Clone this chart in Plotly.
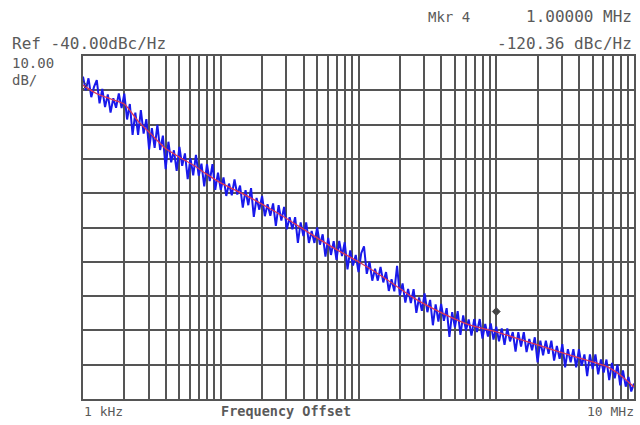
import numpy as np
import plotly.graph_objects as go

# ---- data ----
# noisy measured trace (blue), 201 log-spaced points from 1 kHz to 10 MHz
blue_freq_hz = np.logspace(3, 7, 201)
blue_dbc = [
    -46.0, -50.0, -46.5, -52.0, -49.0, -47.0, -53.8, -49.6, -54.9, -51.2,
    -56.5, -52.3, -55.1, -50.9, -55.2, -51.0, -58.5, -54.0, -63.0, -56.5,
    -63.0, -55.8, -62.6, -58.4, -67.2, -61.0, -66.8, -60.1, -67.4, -63.2,
    -73.0, -65.0, -71.0, -67.5, -73.5, -66.5, -72.0, -68.4, -75.9, -69.8,
    -74.8, -68.8, -74.9, -71.4, -78.0, -71.5, -76.5, -71.5, -79.0, -74.0,
    -79.0,
    -75.4, -80.8, -77.2, -80.6, -76.0, -80.4, -77.8, -84.2, -79.1, -83.5,
    -78.5, -86.9, -81.4, -84.8, -80.8, -86.7, -83.2, -86.6, -83.0, -89.5,
    -83.5, -88.0, -84.0, -90.5, -87.0, -90.5, -87.0, -94.5, -88.5, -92.5,
    -88.5, -94.5, -91.0, -94.5, -90.0, -95.0, -92.0, -98.5, -93.0, -98.0,
    -94.0, -99.4, -93.9, -98.3, -94.3, -102.2, -96.7, -101.1, -98.0, -103.0,
    -97.5, -95.5, -103.5, -100.0, -105.5, -102.0, -105.5, -101.5, -106.0, -103.0,
    -108.5, -105.1, -108.6, -101.2, -109.8, -106.3, -111.9, -107.9, -112.0, -108.0,
    -114.9, -110.4, -114.3, -109.2, -114.7, -111.1, -118.5, -112.4, -117.4, -112.3,
    -117.2, -113.5, -121.9, -114.7, -119.1, -114.4, -121.3, -115.6, -120.0, -116.8,
    -121.5, -116.7, -120.5, -116.7, -122.4, -118.1, -121.8, -118.0, -122.7, -118.9,
    -123.2, -119.4, -124.2, -119.4, -123.2, -120.5, -126.2, -120.5, -124.7, -120.5,
    -126.3, -122.5, -125.8, -122.0, -129.3, -123.0, -127.3, -123.0, -126.8, -123.0,
    -128.8, -124.5, -128.3, -124.0, -130.8, -125.5, -129.3, -125.5, -130.8, -125.5,
    -130.3, -127.0, -133.3, -127.0, -131.3, -127.0, -132.8, -128.5, -132.3, -128.5,
    -134.5, -129.5, -134.0, -130.0, -136.0, -131.7, -136.4, -133.6, -137.8, -135.5,
]

# smoothed trace (red)
red_freq_hz = [1e3, 1.259e3, 1.585e3, 1.995e3, 2.512e3, 3.162e3, 3.981e3, 5.012e3,
               6.310e3, 7.943e3, 1e4, 1.585e4, 2.512e4, 3.981e4, 6.310e4, 1e5,
               1.585e5, 2.512e5, 3.981e5, 6.310e5, 1e6, 1.585e6, 2.512e6,
               3.981e6, 6.310e6, 7.943e6, 1e7]
red_dbc = [-48.5, -51, -52.5, -54, -59, -63, -67, -69.5, -71.8, -74.5, -77,
           -81, -85.5, -90.5, -95.5, -100, -105, -110.5, -114.8, -118.3,
           -120.4, -123, -125.5, -128, -130.5, -133, -136.5]

# markers
marker_freq_hz = [1e3, 1e6]
marker_dbc = [-48.5, -114.5]

# grid frequencies (1..9 per decade)
grid_freq_hz = [m * 10 ** e for e in range(3, 7) for m in range(1, 10)] + [1e7]

# text
ref_text = "Ref -40.00dBc/Hz"
scale_text = ["10.00", "dB/"]
mkr_label = "Mkr 4"
mkr_freq_text = "1.00000 MHz"
mkr_val_text = "-120.36 dBc/Hz"
x_start_label = "1 kHz"
x_end_label = "10 MHz"
x_title = "Frequency Offset"

# ---- figure ----
W, H = 640, 425
L, R, T, B = 83, 4, 56, 26
pw, ph = W - L - R, H - T - B

def px(xp):
    return (xp - L) / pw

def py(yp):
    return (H - B - yp) / ph

fig = go.Figure()
fig.add_trace(go.Scatter(x=blue_freq_hz, y=blue_dbc, mode="lines",
                         line=dict(color="rgb(25,25,235)", width=2),
                         hoverinfo="skip", showlegend=False))
fig.add_trace(go.Scatter(x=red_freq_hz, y=red_dbc, mode="lines",
                         line=dict(color="rgb(220,55,85)", width=1.3,
                                   shape="spline", smoothing=0.6),
                         hoverinfo="skip", showlegend=False))
fig.add_trace(go.Scatter(x=marker_freq_hz, y=marker_dbc, mode="markers",
                         marker=dict(symbol=["diamond-open", "diamond"], size=6,
                                     color="#444", line=dict(color="#444", width=1)),
                         hoverinfo="skip", showlegend=False))

grid_col = "#555555"
fig.update_xaxes(type="log", range=[3, 7], tickvals=grid_freq_hz,
                 showticklabels=False, ticks="", showgrid=True,
                 gridcolor=grid_col, gridwidth=1.5, showline=True,
                 linecolor=grid_col, linewidth=1.5, mirror=True, zeroline=False)
fig.update_yaxes(range=[-140, -40], dtick=10, showticklabels=False, ticks="",
                 showgrid=True, gridcolor=grid_col, gridwidth=1.5,
                 showline=True, linecolor=grid_col, linewidth=1.5, mirror=True,
                 zeroline=False)

tc = "#5a5a5a"
fam = "DejaVu Sans Mono"
ann = []
def add(text, x, y, xa, size, bold=False):
    ann.append(dict(text=f"<b>{text}</b>" if bold else text, x=px(x), y=py(y),
                    xref="paper", yref="paper", xanchor=xa, yanchor="middle",
                    showarrow=False, borderpad=0,
                    font=dict(family=fam, size=size, color=tc)))

add(ref_text, 11, 43, "left", 16)
add(scale_text[0], 11, 63, "left", 14)
add(scale_text[1], 11, 80.5, "left", 14)
add(mkr_label, 428, 17, "left", 14)
add(mkr_freq_text, 635, 17, "right", 16)
add(mkr_val_text, 635, 43, "right", 16)
add(x_start_label, 83, 411, "left", 13)
add(x_end_label, 637, 411, "right", 13)
add(x_title, 287, 411, "center", 13.5, bold=True)

fig.update_layout(width=W, height=H, margin=dict(l=L, r=R, t=T, b=B),
                  paper_bgcolor="white", plot_bgcolor="white",
                  annotations=ann)

fig.write_html("out.html", config={"displayModeBar": False},
               post_script="document.body.style.margin='0';document.body.style.padding='0';")
